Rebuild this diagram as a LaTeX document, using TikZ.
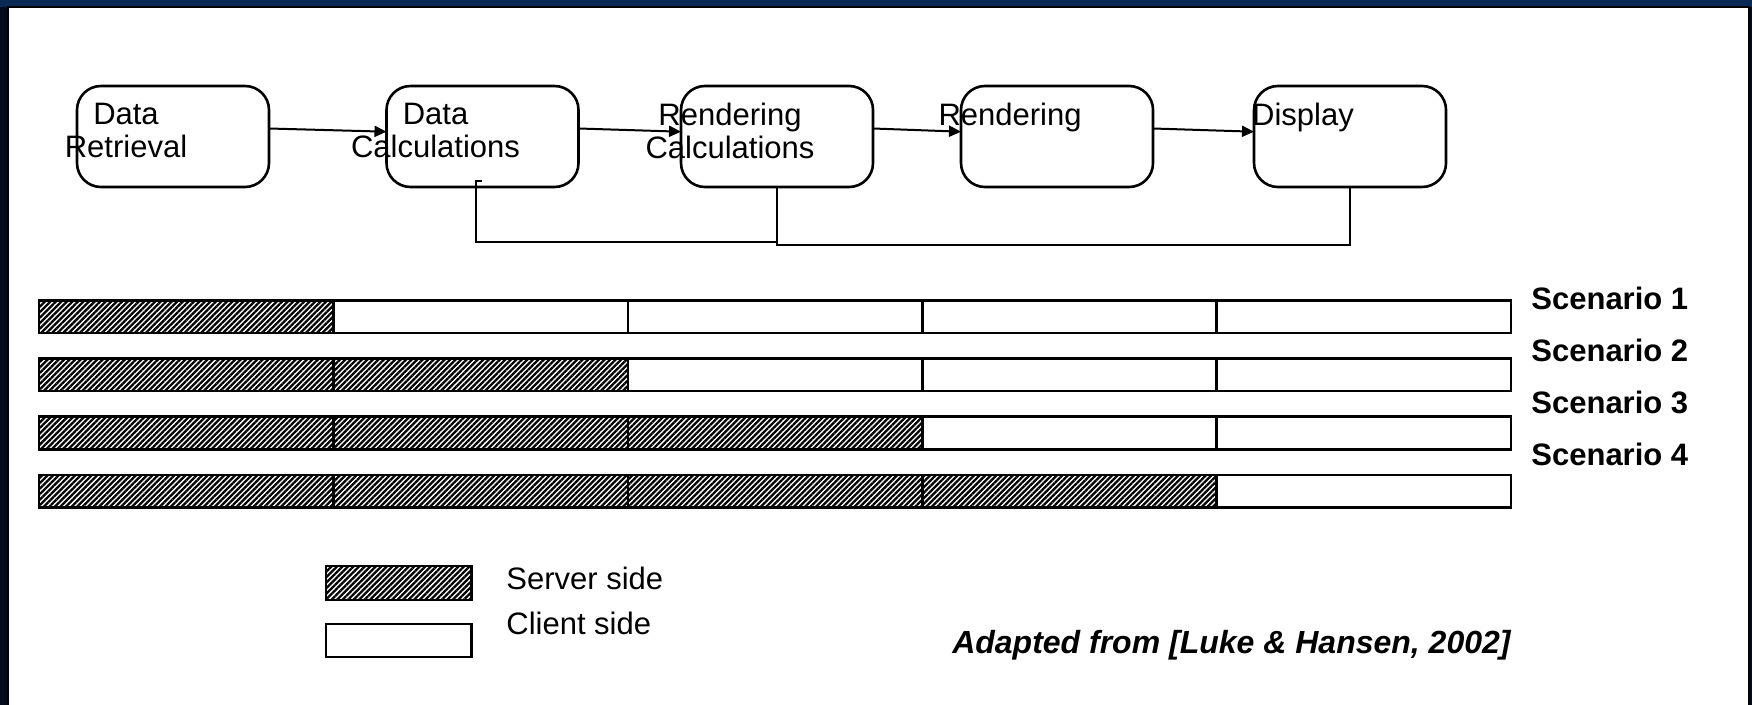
\documentclass[tikz,border=0pt]{standalone}
\usepackage{fontspec}
\setmainfont{Liberation Sans}
\usetikzlibrary{positioning,arrows.meta,patterns.meta}

\definecolor{framenavy}{RGB}{3,12,28}
\definecolor{topnavy}{RGB}{8,42,84}

\newcommand\labelsize{\fontsize{15.5bp}{16.5bp}\selectfont}

\tikzset{
  stage/.style={draw,line width=1.3bp,rounded corners=12bp,minimum width=96bp,
    minimum height=50.5bp,inner sep=0pt,outer sep=0pt},
  stagetext/.style={anchor=north,align=center,inner sep=0pt,xshift=-23.5bp,yshift=-8.5bp},
  flow/.style={->,line width=1bp},
  loopline/.style={line width=1bp},
  serverpart/.style={draw,line width=1.3bp,pattern={Lines[angle=45,distance=1.95bp,line width=1.15bp]}},
  clientpart/.style={draw,line width=1.3bp,fill=white},
  scen/.style={anchor=base west,inner sep=0pt,font=\labelsize\bfseries},
  legendtext/.style={anchor=base west,inner sep=0pt},
  >={Triangle[length=6bp,width=5.5bp]}
}

\begin{document}
\begin{tikzpicture}[x=0.5bp,y=-0.5bp,font=\labelsize]
  \useasboundingbox (0,0) rectangle (1752,705);
  % slide frame
  \fill[framenavy] (0,0) rectangle (1752,705);
  \fill[topnavy] (0,0) rectangle (1752,7);
  \fill[white] (8,7) rectangle (1749,705);
  \draw[line width=1bp] (8,705) -- (8,7) -- (1749,7) -- (1749,705);

  % pipeline
  \node[stage,label={[stagetext]north:Data\\Retrieval}] (dret) at (173,136.5) {};
  \node[stage,right=58.75bp of dret,label={[stagetext]north:Data\\Calculations}] (dcalc) {};
  \node[stage,right=51.25bp of dcalc,label={[stagetext]north:Rendering\\Calculations}] (rcalc) {};
  \node[stage,right=44bp of rcalc,label={[stagetext]north:Rendering}] (rend) {};
  \node[stage,right=50.5bp of rend,label={[stagetext]north:Display}] (disp) {};

  \draw[flow] ([yshift=4bp]dret.east) -- ([yshift=2.4bp]dcalc.west);
  \draw[flow] ([yshift=4bp]dcalc.east) -- ([yshift=2.4bp]rcalc.west);
  \draw[flow] ([yshift=4bp]rcalc.east) -- ([yshift=2.4bp]rend.west);
  \draw[flow] ([yshift=4bp]rend.east) -- ([yshift=2.4bp]disp.west);

  \draw[loopline] ([shift={(-1,-6)}]dcalc.south) -- ++(-5.4,0) -- ++(0,61) -| (rcalc.south);
  \draw[loopline] (rcalc.south) -- ++(0,57.5) -| (disp.south);

  % scenarios
  \foreach \r in {1,...,4}
    \foreach \c in {1,...,5} {
      \ifnum\c>\r
        \draw[clientpart] ({39+294.4*(\c-1)},{300.5+58.1*(\r-1)}) rectangle ++(294.4,32.5);
      \else
        \draw[serverpart] ({39+294.4*(\c-1)},{300.5+58.1*(\r-1)}) rectangle ++(294.4,32.5);
      \fi
    }
  \foreach \s/\yb in {1/309,2/361,3/413,4/465.5}
    \node[scen] (sc\s) at (1531,\yb) {Scenario \s};

  % legend
  \draw[serverpart] (326,566) rectangle (471.5,600);
  \draw[clientpart] (326,624) rectangle (471.5,657);
  \node[legendtext] (srv) at (506,589) {Server side};
  \node[legendtext] (cli) at (506,634) {Client side};

  \node[anchor=base east,inner sep=0pt,font=\fontsize{16bp}{17bp}\selectfont\bfseries\itshape] (src) at (1511,653)
    {Adapted from [Luke \& Hansen, 2002]};
\end{tikzpicture}
\end{document}
